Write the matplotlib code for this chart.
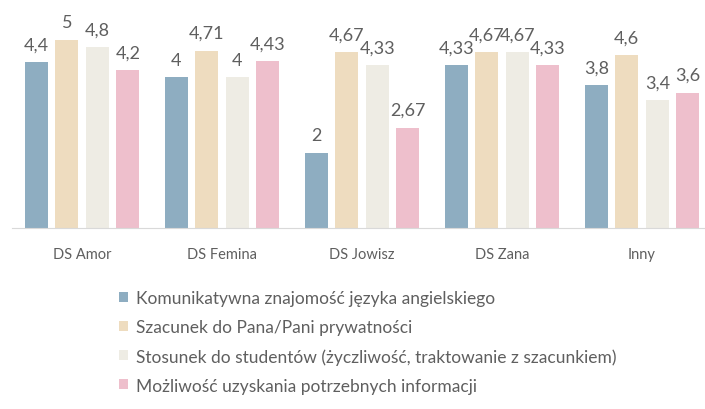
import matplotlib.pyplot as plt
import numpy as np

plt.rcParams['font.family'] = ['Lato', 'DejaVu Sans']

categories = ["DS Amor", "DS Femina", "DS Jowisz", "DS Zana", "Inny"]
series_names = [
    "Komunikatywna znajomość języka angielskiego",
    "Szacunek do Pana/Pani prywatności",
    "Stosunek do studentów (życzliwość, traktowanie z szacunkiem)",
    "Możliwość uzyskania potrzebnych informacji",
]
komunikatywna = [4.4, 4.0, 2.0, 4.33, 3.8]
szacunek = [5.0, 4.71, 4.67, 4.67, 4.6]
stosunek = [4.8, 4.0, 4.33, 4.67, 3.4]
mozliwosc = [4.2, 4.43, 2.67, 4.33, 3.6]
colors = ["#8eadc1", "#eedcbf", "#eeece4", "#eebfcc"]

series = [komunikatywna, szacunek, stosunek, mozliwosc]
text_col = "#5f5f5f"

fig = plt.figure(figsize=(7.05, 4.1), dpi=100)
ax = fig.add_axes([12/705, 181/410, 700/705, 207/410])

x = np.arange(len(categories))
w = 0.164
step = 0.218
for i, (vals, name, c) in enumerate(zip(series, series_names, colors)):
    pos = x + (i - 1.5) * step
    bars = ax.bar(pos, vals, width=w, color=c, label=name)
    for b, v in zip(bars, vals):
        lab = ("%g" % v).replace(".", ",")
        ax.annotate(lab, (b.get_x() + b.get_width()/2, v), xytext=(0, 7),
                    textcoords="offset points", ha="center", va="bottom",
                    fontsize=13, color=text_col)

ax.set_xlim(-0.5, 4.5)
ax.set_ylim(0, 5.5)
ax.set_xticks(x)
ax.set_xticklabels(categories, fontsize=10.5, color=text_col)
ax.tick_params(axis="x", length=0, pad=14)
ax.set_yticks([])
for s in ["top", "right", "left"]:
    ax.spines[s].set_visible(False)
ax.spines["bottom"].set_color("#d9d9d9")

fig.legend(loc="upper left", bbox_to_anchor=(112/705, 1 - 284/410), frameon=False,
           fontsize=12.5, labelcolor=text_col, handlelength=0.5, handleheight=0.5,
           handletextpad=0.5, labelspacing=0.75, borderaxespad=0)

fig.savefig("out.png", dpi=100)
